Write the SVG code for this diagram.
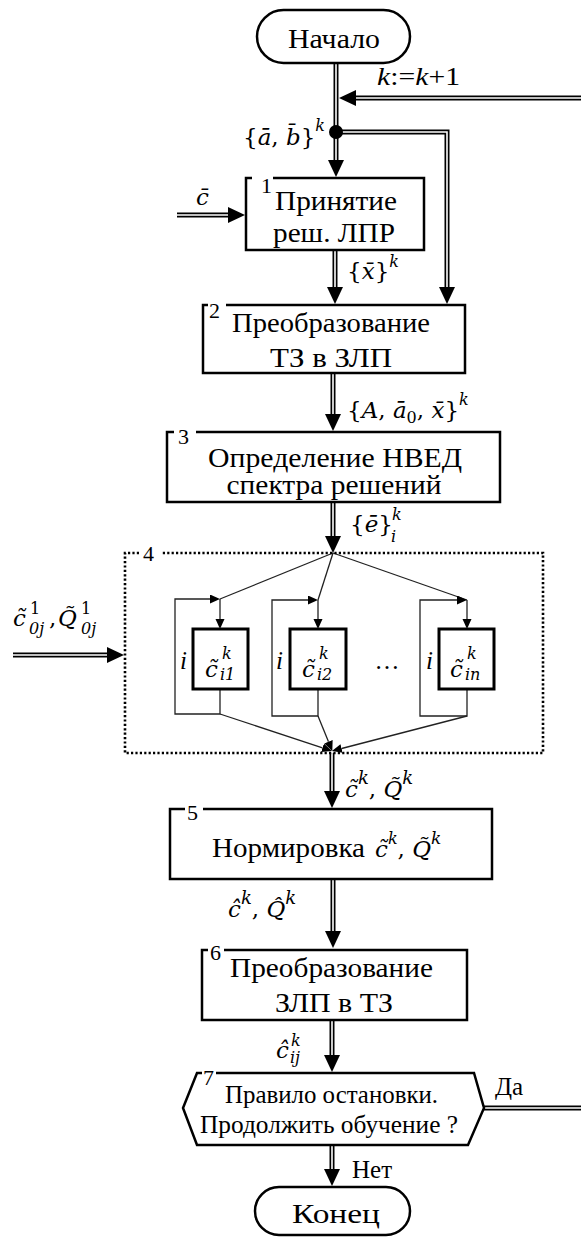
<svg xmlns="http://www.w3.org/2000/svg" width="581" height="1237" viewBox="0 0 581 1237">
  <style>
    .box { fill: #fff; stroke: #000; stroke-width: 2.5; }
    .edge { fill: none; stroke: #000; stroke-width: 2.5; }
    .sub { fill: #fff; stroke: #000; stroke-width: 3; }
    .dots { fill: none; stroke: #000; stroke-width: 2.6; stroke-dasharray: 2.2 2.2; }
    .outer { fill: none; stroke: #000; stroke-width: 5; }
    .inner { fill: none; stroke: #fff; stroke-width: 1.6; }
    .thin { fill: none; stroke: #222; stroke-width: 1.3; }
    .t { font-family: "Liberation Serif", "DejaVu Serif", serif; font-size: 27px; fill: #000; }
    .n { font-family: "Liberation Serif", "DejaVu Serif", serif; font-size: 22px; fill: #000; }
    .l { font-family: "Liberation Serif", "DejaVu Serif", serif; font-size: 25px; fill: #000; }
    .m { font-family: "DejaVu Serif", "Liberation Serif", serif; font-size: 23px; fill: #000; }
    .i { font-style: italic; }
    .s { font-size: 16px; }
  </style>
  <defs>
    <marker id="big" markerUnits="userSpaceOnUse" markerWidth="18" markerHeight="18" refX="0" refY="8" orient="auto">
      <path d="M0,0 L17,8 L0,16 z" fill="#000"/>
    </marker>
    <marker id="small" markerUnits="userSpaceOnUse" markerWidth="12" markerHeight="10" refX="0" refY="4.5" orient="auto">
      <path d="M0,0 L10,4.5 L0,9 z" fill="#000"/>
    </marker>
  </defs>

  <!-- connectors -->
  <g id="connectors">
    <!-- main trunk: start to block 1 -->
    <path class="outer" d="M336,63 V160" marker-end="url(#big)"/>
    <path class="inner" d="M336,63 V160"/>
    <!-- loop back k:=k+1 -->
    <path class="outer" d="M581,98 H356" marker-end="url(#big)"/>
    <path class="inner" d="M581,98 H356"/>
    <!-- branch to block 2 -->
    <path class="outer" d="M336,132 H447 V287" marker-end="url(#big)"/>
    <path class="inner" d="M336,132 H447 V287"/>
    <circle cx="336" cy="132" r="7" fill="#000"/>
    <!-- input c -->
    <path class="outer" d="M177,215 H228" marker-end="url(#big)"/>
    <path class="inner" d="M177,215 H228"/>
    <!-- 1 to 2 -->
    <path class="outer" d="M335,250 V287" marker-end="url(#big)"/>
    <path class="inner" d="M335,250 V287"/>
    <!-- 2 to 3 -->
    <path class="outer" d="M333,373 V414" marker-end="url(#big)"/>
    <path class="inner" d="M333,373 V414"/>
    <!-- 3 to 4 -->
    <path class="outer" d="M333,502 V536" marker-end="url(#big)"/>
    <path class="inner" d="M333,502 V536"/>
    <!-- initial values into 4 -->
    <path class="outer" d="M13,655 H107" marker-end="url(#big)"/>
    <path class="inner" d="M13,655 H107"/>
    <!-- 4 to 5 -->
    <path class="outer" d="M332,753 V791" marker-end="url(#big)"/>
    <path class="inner" d="M332,753 V791"/>
    <!-- 5 to 6 -->
    <path class="outer" d="M333,879 V931" marker-end="url(#big)"/>
    <path class="inner" d="M333,879 V931"/>
    <!-- 6 to 7 -->
    <path class="outer" d="M332,1020 V1055" marker-end="url(#big)"/>
    <path class="inner" d="M332,1020 V1055"/>
    <!-- 7 yes: back to the top -->
    <path class="outer" d="M484,1108 H581"/>
    <path class="inner" d="M484,1108 H581"/>
    <!-- 7 no: to end -->
    <path class="outer" d="M332,1145 V1169" marker-end="url(#big)"/>
    <path class="inner" d="M332,1145 V1169"/>

    <!-- block 4 internals: fan-out -->
    <path class="thin" d="M333,553 L220,599"/>
    <path class="thin" d="M333,553 L318,600"/>
    <path class="thin" d="M333,553 L467,600"/>
    <!-- sub 1 -->
    <path class="thin" d="M220,599 V619" marker-end="url(#small)"/>
    <path class="thin" d="M220,689 V714 H175 V599 H210" marker-end="url(#small)"/>
    <!-- sub 2 -->
    <path class="thin" d="M318,600 V619" marker-end="url(#small)"/>
    <path class="thin" d="M318,689 V716 H272 V600 H308" marker-end="url(#small)"/>
    <!-- sub n -->
    <path class="thin" d="M467,600 V619" marker-end="url(#small)"/>
    <path class="thin" d="M467,689 V716 H420 V600 H457" marker-end="url(#small)"/>
    <!-- fan-in -->
    <path class="thin" d="M220,714 L322.5,747.8" marker-end="url(#small)"/>
    <path class="thin" d="M318,716 L328.5,741.7" marker-end="url(#small)"/>
    <path class="thin" d="M467,716 L341.6,748.5" marker-end="url(#small)"/>
  </g>

  <!-- start -->
  <g id="start">
    <rect class="box" x="257" y="10" width="153" height="53" rx="26.5"/>
    <text class="t" x="334" y="48" text-anchor="middle" textLength="92" lengthAdjust="spacingAndGlyphs">Начало</text>
  </g>

  <!-- block 1 -->
  <g id="b1">
    <path class="edge" d="M252,178 H246 V250 H424 V178 H273"/>
    <text class="n" x="261" y="193">1</text>
    <text class="t" x="336" y="210" text-anchor="middle" textLength="122" lengthAdjust="spacingAndGlyphs">Принятие</text>
    <text class="t" x="334" y="242" text-anchor="middle" textLength="122" lengthAdjust="spacingAndGlyphs">реш. ЛПР</text>
  </g>

  <!-- block 2 -->
  <g id="b2">
    <path class="edge" d="M208,305 H203 V373 H465 V305 H226"/>
    <text class="n" x="209" y="318">2</text>
    <text class="t" x="331" y="332" text-anchor="middle" textLength="198" lengthAdjust="spacingAndGlyphs">Преобразование</text>
    <text class="t" x="331" y="367" text-anchor="middle" textLength="122" lengthAdjust="spacingAndGlyphs">ТЗ в ЗЛП</text>
  </g>

  <!-- block 3 -->
  <g id="b3">
    <path class="edge" d="M174,432 H167 V502 H500 V432 H196"/>
    <text class="n" x="178" y="444">3</text>
    <text class="t" x="335" y="467" text-anchor="middle" textLength="254" lengthAdjust="spacingAndGlyphs">Определение НВЕД</text>
    <text class="t" x="334" y="494" text-anchor="middle" textLength="215" lengthAdjust="spacingAndGlyphs">спектра решений</text>
  </g>

  <!-- block 4 -->
  <g id="b4">
    <path class="dots" d="M139,553 H125 V753 H543 V553 H162"/>
    <text class="n" x="143" y="561">4</text>
  </g>
  <g id="b4-1">
    <rect class="sub" x="193" y="629" width="55" height="60"/>
    <text class="m i" x="205" y="677">c&#x0303;</text>
    <text class="m i s" x="222" y="659">k</text>
    <text class="m i s" x="220" y="680">i1</text>
    <text class="l i" x="180" y="669">i</text>
  </g>
  <g id="b4-2">
    <rect class="sub" x="290" y="629" width="56" height="60"/>
    <text class="m i" x="302" y="677">c&#x0303;</text>
    <text class="m i s" x="319" y="659">k</text>
    <text class="m i s" x="317" y="680">i2</text>
    <text class="l i" x="276" y="669">i</text>
  </g>
  <g id="b4-dots">
    <text class="l" x="387" y="669" text-anchor="middle">…</text>
  </g>
  <g id="b4-n">
    <rect class="sub" x="439" y="629" width="55" height="60"/>
    <text class="m i" x="450" y="677">c&#x0303;</text>
    <text class="m i s" x="467" y="659">k</text>
    <text class="m i s" x="465" y="680">in</text>
    <text class="l i" x="426" y="669">i</text>
  </g>

  <!-- block 5 -->
  <g id="b5">
    <path class="edge" d="M185,809 H170 V879 H492 V809 H203"/>
    <text class="n" x="187" y="820">5</text>
    <text class="t" x="212" y="857" textLength="153" lengthAdjust="spacingAndGlyphs">Нормировка</text>
    <text class="m i" x="375" y="857" font-size="25">c&#x0303;<tspan class="s" font-size="17" dy="-13">k</tspan><tspan font-style="normal" dy="13">, </tspan>Q&#x0303;<tspan font-size="17" dy="-13">k</tspan></text>
  </g>

  <!-- block 6 -->
  <g id="b6">
    <path class="edge" d="M208,950 H202 V1020 H467 V950 H224"/>
    <text class="n" x="210" y="960">6</text>
    <text class="t" x="331.5" y="977" text-anchor="middle" textLength="203" lengthAdjust="spacingAndGlyphs">Преобразование</text>
    <text class="t" x="334" y="1012" text-anchor="middle" textLength="118" lengthAdjust="spacingAndGlyphs">ЗЛП в ТЗ</text>
  </g>

  <!-- block 7 -->
  <g id="b7">
    <path class="edge" d="M202,1073 H197 L183,1108 L197,1145 H468 L484,1108 L474,1073 H216"/>
    <text class="n" x="203" y="1085">7</text>
    <text class="l" x="331.5" y="1103" text-anchor="middle" textLength="213" lengthAdjust="spacingAndGlyphs">Правило остановки.</text>
    <text class="l" x="329" y="1133" text-anchor="middle" textLength="258" lengthAdjust="spacingAndGlyphs">Продолжить обучение ?</text>
  </g>

  <!-- end -->
  <g id="end">
    <rect class="box" x="255" y="1187" width="155" height="48" rx="24"/>
    <text class="t" x="336" y="1223" text-anchor="middle" textLength="88" lengthAdjust="spacingAndGlyphs">Конец</text>
  </g>

  <!-- connector labels -->
  <g id="labels">
    <text class="l" x="377" y="85" font-size="27" textLength="83" lengthAdjust="spacingAndGlyphs"><tspan class="i">k</tspan>:=<tspan class="i">k</tspan>+1</text>
    <text class="m" x="243" y="145" font-size="26">{<tspan class="i">a&#x0304;</tspan>, <tspan class="i">b&#x0304;</tspan>}<tspan class="i s" dy="-14">k</tspan></text>
    <text class="m i" x="196" y="205">c&#x0304;</text>
    <text class="m" x="347" y="279">{<tspan class="i">x&#x0304;</tspan>}<tspan class="i s" dy="-12">k</tspan></text>
    <text class="m" x="347" y="418">{<tspan class="i">A</tspan>, <tspan class="i">a&#x0304;</tspan><tspan class="s" dy="5">0</tspan><tspan dy="-5">, </tspan><tspan class="i">x&#x0304;</tspan>}<tspan class="i s" dy="-13">k</tspan></text>
    <text class="m" x="350" y="532">{<tspan class="i">e&#x0304;</tspan>}</text>
    <text class="m i s" x="392" y="520">k</text>
    <text class="m i s" x="391" y="542">i</text>
    <text class="m i" x="13" y="626" font-size="25">c&#x0303;</text>
    <text class="m s" x="30" y="614">1</text>
    <text class="m i s" x="29" y="634">0j</text>
    <text class="m" x="49" y="626" font-size="25">,</text>
    <text class="m i" x="58" y="626" font-size="25">Q&#x0303;</text>
    <text class="m s" x="81" y="614">1</text>
    <text class="m i s" x="81" y="634">0j</text>
    <text class="m i" x="345" y="797" font-size="26">c&#x0303;<tspan font-size="18" dy="-13">k</tspan><tspan font-style="normal" dy="13">, </tspan>Q&#x0303;<tspan font-size="18" dy="-13">k</tspan></text>
    <text class="m i" x="228" y="917" font-size="26">c&#x0302;<tspan font-size="18" dy="-13">k</tspan><tspan font-style="normal" dy="13">,  </tspan>Q&#x0302;<tspan font-size="18" dy="-13">k</tspan></text>
    <text class="m i" x="276" y="1058">c&#x0302;</text>
    <text class="m i s" x="291" y="1046">k</text>
    <text class="m i s" x="290" y="1063">ij</text>
    <text class="l" x="495" y="1095">Да</text>
    <text class="l" x="352" y="1178">Нет</text>
  </g>
</svg>
